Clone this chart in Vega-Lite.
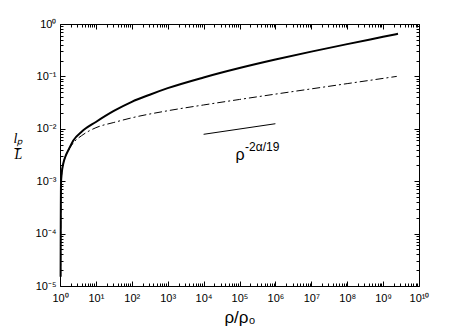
{
  "$schema": "https://vega.github.io/schema/vega-lite/v6.json",
  "width": 359,
  "height": 262,
  "autosize": {"type": "none"},
  "padding": {"left": 60, "top": 24, "right": 44, "bottom": 46},
  "background": "white",
  "config": {
    "view": {"stroke": "#000", "strokeWidth": 1},
    "axis": {"grid": false, "domain": false, "labelFont": "Liberation Sans", "labelFontSize": 11, "labelColor": "#000", "tickColor": "#000", "tickWidth": 1, "labelFlush": false, "labelOverlap": false}
  },
  "datasets": {
    "curves": [
      {"series": "solid", "rho": 1.04, "lp": 0.000015},
      {"series": "solid", "rho": 1.045, "lp": 0.00005},
      {"series": "solid", "rho": 1.05, "lp": 0.00015},
      {"series": "solid", "rho": 1.055, "lp": 0.00035},
      {"series": "solid", "rho": 1.06, "lp": 0.0006},
      {"series": "solid", "rho": 1.066, "lp": 0.0009},
      {"series": "solid", "rho": 1.115, "lp": 0.0014},
      {"series": "solid", "rho": 1.24, "lp": 0.0022},
      {"series": "solid", "rho": 1.4, "lp": 0.0029},
      {"series": "solid", "rho": 1.8, "lp": 0.0042},
      {"series": "solid", "rho": 2.35, "lp": 0.006},
      {"series": "solid", "rho": 4, "lp": 0.0088},
      {"series": "solid", "rho": 10, "lp": 0.0135},
      {"series": "solid", "rho": 31.6, "lp": 0.0219},
      {"series": "solid", "rho": 100, "lp": 0.0327},
      {"series": "solid", "rho": 316, "lp": 0.0447},
      {"series": "solid", "rho": 1000, "lp": 0.0596},
      {"series": "solid", "rho": 10000, "lp": 0.0955},
      {"series": "solid", "rho": 100000, "lp": 0.1445},
      {"series": "solid", "rho": 1000000, "lp": 0.21},
      {"series": "solid", "rho": 10000000, "lp": 0.297},
      {"series": "solid", "rho": 100000000, "lp": 0.413},
      {"series": "solid", "rho": 1000000000, "lp": 0.569},
      {"series": "solid", "rho": 2600000000, "lp": 0.65},
      {"series": "dashdot", "rho": 1.04, "lp": 0.000015},
      {"series": "dashdot", "rho": 1.045, "lp": 0.00005},
      {"series": "dashdot", "rho": 1.05, "lp": 0.00015},
      {"series": "dashdot", "rho": 1.055, "lp": 0.00035},
      {"series": "dashdot", "rho": 1.06, "lp": 0.0006},
      {"series": "dashdot", "rho": 1.066, "lp": 0.0009},
      {"series": "dashdot", "rho": 1.115, "lp": 0.0014},
      {"series": "dashdot", "rho": 1.24, "lp": 0.0022},
      {"series": "dashdot", "rho": 1.4, "lp": 0.0029},
      {"series": "dashdot", "rho": 1.8, "lp": 0.0041},
      {"series": "dashdot", "rho": 2.35, "lp": 0.0054},
      {"series": "dashdot", "rho": 4, "lp": 0.0074},
      {"series": "dashdot", "rho": 10, "lp": 0.0105},
      {"series": "dashdot", "rho": 31.6, "lp": 0.0132},
      {"series": "dashdot", "rho": 100, "lp": 0.0162},
      {"series": "dashdot", "rho": 1000, "lp": 0.0221},
      {"series": "dashdot", "rho": 10000, "lp": 0.0285},
      {"series": "dashdot", "rho": 100000, "lp": 0.0363},
      {"series": "dashdot", "rho": 1000000, "lp": 0.0459},
      {"series": "dashdot", "rho": 10000000, "lp": 0.0578},
      {"series": "dashdot", "rho": 100000000, "lp": 0.0728},
      {"series": "dashdot", "rho": 1000000000, "lp": 0.0916},
      {"series": "dashdot", "rho": 2400000000, "lp": 0.1}
    ],
    "slope": [
      {"rho": 10000, "lp": 0.00785},
      {"rho": 1000000, "lp": 0.0125}
    ],
    "notes": [
      {"part": "base", "rho": 103000, "lp": 0.00316, "text": "ρ"},
      {"part": "sup", "rho": 143000, "lp": 0.00447, "text": "-2α/19"}
    ]
  },
  "resolve": {"axis": {"x": "independent", "y": "independent"}},
  "layer": [
    {
      "data": {"name": "curves"},
      "transform": [{"filter": "datum.series === 'dashdot'"}],
      "mark": {"type": "line", "color": "#000", "strokeWidth": 1, "strokeDash": [8, 3, 2, 3], "interpolate": "monotone"},
      "encoding": {
        "x": {"field": "rho", "type": "quantitative", "scale": {"type": "log", "domain": [1, 10000000000], "nice": false},
          "axis": {"orient": "bottom", "offset": -5, "values": [1, 10, 100, 1000, 10000, 100000, 1000000, 10000000, 100000000, 1000000000, 10000000000], "labels": false, "ticks": true, "tickSize": 5, "title": null}},
        "y": {"field": "lp", "type": "quantitative", "scale": {"type": "log", "domain": [0.00001, 1], "nice": false},
          "axis": {"orient": "left", "offset": -5, "values": [0.00001, 0.0001, 0.001, 0.01, 0.1, 1], "labels": false, "ticks": true, "tickSize": 5, "title": null}}
      }
    },
    {
      "data": {"name": "curves"},
      "transform": [{"filter": "datum.series === 'solid'"}],
      "mark": {"type": "line", "color": "#000", "strokeWidth": 2, "interpolate": "monotone"},
      "encoding": {
        "x": {"field": "rho", "type": "quantitative", "scale": {"type": "log", "domain": [1, 10000000000], "nice": false},
          "axis": {"orient": "bottom", "values": [1, 10, 100, 1000, 10000, 100000, 1000000, 10000000, 100000000, 1000000000, 10000000000], "ticks": false, "labelPadding": 6,
            "labelExpr": "'10' + ['⁰','¹','²','³','⁴','⁵','⁶','⁷','⁸','⁹','¹⁰'][round(abs(log(datum.value)/LN10))]",
            "title": "ρ/ρ₀", "titleFont": "Liberation Sans", "titleFontSize": 17, "titleFontWeight": "normal", "titleColor": "#000", "titleBaseline": "middle", "titleY": 31}},
        "y": {"field": "lp", "type": "quantitative", "scale": {"type": "log", "domain": [0.00001, 1], "nice": false},
          "axis": {"orient": "left", "values": [0.00001, 0.0001, 0.001, 0.01, 0.1, 1], "ticks": false, "labelPadding": 4,
            "labelExpr": "'10' + (datum.value < 0.5 ? '⁻' : '') + ['⁰','¹','²','³','⁴','⁵','⁶','⁷','⁸','⁹'][round(abs(log(datum.value)/LN10))]",
            "title": ["lₚ", "L̅"], "titleFont": "Liberation Serif", "titleFontStyle": "italic", "titleFontSize": 14, "titleFontWeight": "normal", "titleColor": "#000",
            "titleAngle": 0, "titleAlign": "center", "titleBaseline": "middle", "titleLineHeight": 16, "titleX": -42, "titleY": 114}}
      }
    },
    {
      "data": {"name": "slope"},
      "mark": {"type": "line", "color": "#000", "strokeWidth": 1},
      "encoding": {
        "x": {"field": "rho", "type": "quantitative", "scale": {"type": "log", "domain": [1, 10000000000], "nice": false},
          "axis": {"orient": "bottom", "offset": -3, "values": [2,3,4,5,6,7,8,9,20,30,40,50,60,70,80,90,200,300,400,500,600,700,800,900,2000,3000,4000,5000,6000,7000,8000,9000,20000,30000,40000,50000,60000,70000,80000,90000,200000,300000,400000,500000,600000,700000,800000,900000,2000000,3000000,4000000,5000000,6000000,7000000,8000000,9000000,20000000,30000000,40000000,50000000,60000000,70000000,80000000,90000000,200000000,300000000,400000000,500000000,600000000,700000000,800000000,900000000,2000000000,3000000000,4000000000,5000000000,6000000000,7000000000,8000000000,9000000000], "labels": false, "ticks": true, "tickSize": 3, "title": null}},
        "y": {"field": "lp", "type": "quantitative", "scale": {"type": "log", "domain": [0.00001, 1], "nice": false},
          "axis": {"orient": "left", "offset": -3, "values": [0.00002,0.00003,0.00004,0.00005,0.00006,0.00007,0.00008,0.00009,0.0002,0.0003,0.0004,0.0005,0.0006,0.0007,0.0008,0.0009,0.002,0.003,0.004,0.005,0.006,0.007,0.008,0.009,0.02,0.03,0.04,0.05,0.06,0.07,0.08,0.09,0.2,0.3,0.4,0.5,0.6,0.7,0.8,0.9], "labels": false, "ticks": true, "tickSize": 3, "title": null}}
      }
    },
    {
      "data": {"name": "notes"},
      "transform": [{"filter": "datum.part === 'base'"}],
      "mark": {"type": "text", "color": "#000", "font": "Liberation Sans", "fontSize": 16, "align": "center", "baseline": "middle"},
      "encoding": {
        "text": {"field": "text"},
        "x": {"field": "rho", "type": "quantitative", "scale": {"type": "log", "domain": [1, 10000000000], "nice": false},
          "axis": {"orient": "top", "offset": -5, "values": [1, 10, 100, 1000, 10000, 100000, 1000000, 10000000, 100000000, 1000000000, 10000000000], "labels": false, "ticks": true, "tickSize": 5, "title": null}},
        "y": {"field": "lp", "type": "quantitative", "scale": {"type": "log", "domain": [0.00001, 1], "nice": false},
          "axis": {"orient": "right", "offset": -5, "values": [0.00001, 0.0001, 0.001, 0.01, 0.1, 1], "labels": false, "ticks": true, "tickSize": 5, "title": null}}
      }
    },
    {
      "data": {"name": "notes"},
      "transform": [{"filter": "datum.part === 'sup'"}],
      "mark": {"type": "text", "color": "#000", "font": "Liberation Sans", "fontSize": 12, "align": "left", "baseline": "middle"},
      "encoding": {
        "text": {"field": "text"},
        "x": {"field": "rho", "type": "quantitative", "scale": {"type": "log", "domain": [1, 10000000000], "nice": false},
          "axis": {"orient": "top", "offset": -3, "values": [2,3,4,5,6,7,8,9,20,30,40,50,60,70,80,90,200,300,400,500,600,700,800,900,2000,3000,4000,5000,6000,7000,8000,9000,20000,30000,40000,50000,60000,70000,80000,90000,200000,300000,400000,500000,600000,700000,800000,900000,2000000,3000000,4000000,5000000,6000000,7000000,8000000,9000000,20000000,30000000,40000000,50000000,60000000,70000000,80000000,90000000,200000000,300000000,400000000,500000000,600000000,700000000,800000000,900000000,2000000000,3000000000,4000000000,5000000000,6000000000,7000000000,8000000000,9000000000], "labels": false, "ticks": true, "tickSize": 3, "title": null}},
        "y": {"field": "lp", "type": "quantitative", "scale": {"type": "log", "domain": [0.00001, 1], "nice": false},
          "axis": {"orient": "right", "offset": -3, "values": [0.00002,0.00003,0.00004,0.00005,0.00006,0.00007,0.00008,0.00009,0.0002,0.0003,0.0004,0.0005,0.0006,0.0007,0.0008,0.0009,0.002,0.003,0.004,0.005,0.006,0.007,0.008,0.009,0.02,0.03,0.04,0.05,0.06,0.07,0.08,0.09,0.2,0.3,0.4,0.5,0.6,0.7,0.8,0.9], "labels": false, "ticks": true, "tickSize": 3, "title": null}}
      }
    }
  ]
}
